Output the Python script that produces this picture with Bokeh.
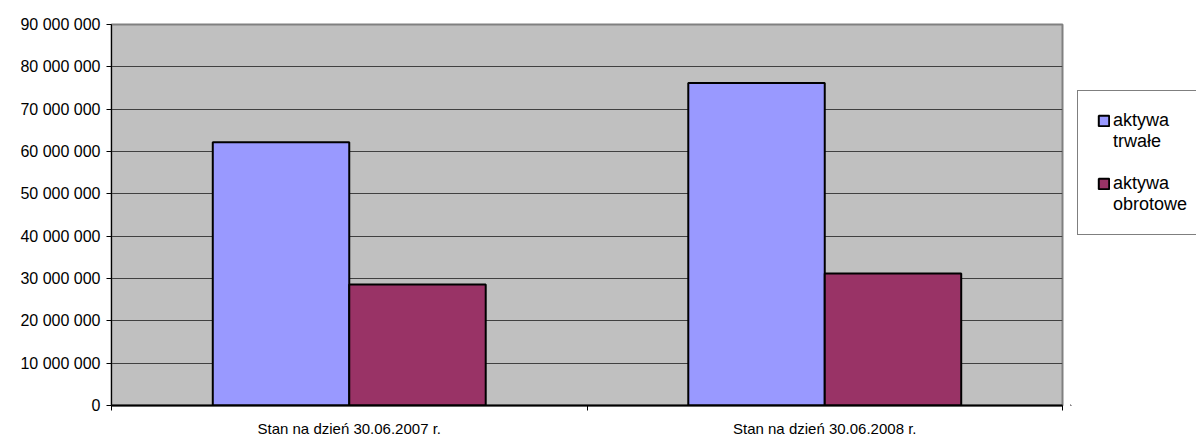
from bokeh.plotting import figure
from bokeh.layouts import row
from bokeh.models import Range1d, FixedTicker, Legend, LegendItem, ColumnDataSource
from bokeh.embed import file_html
from bokeh.resources import INLINE

categories = ["Stan na dzień 30.06.2007 r.", "Stan na dzień 30.06.2008 r."]
series_label_lines = [["aktywa", "trwałe"], ["aktywa", "obrotowe"]]
aktywa_trwale = [62_200_000, 76_200_000]
aktywa_obrotowe = [28_600_000, 31_200_000]
series_colors = ["#9999FF", "#993366"]
y_ticks = [0, 10_000_000, 20_000_000, 30_000_000, 40_000_000,
           50_000_000, 60_000_000, 70_000_000, 80_000_000, 90_000_000]
y_tick_labels = ["0", "10 000 000", "20 000 000", "30 000 000", "40 000 000",
                 "50 000 000", "60 000 000", "70 000 000", "80 000 000", "90 000 000"]

FONT = "Liberation Sans"
n = len(categories)
bar_w = 0.287
centers = [i + 0.5 for i in range(n)]

# ---------------- main chart ----------------
p = figure(width=1070, height=439, output_backend="svg", toolbar_location=None,
           x_range=Range1d(0, n), y_range=Range1d(y_ticks[0], y_ticks[-1]),
           min_border_left=111, min_border_right=8, min_border_top=24,
           min_border_bottom=33)

p.background_fill_color = "#C0C0C0"
p.border_fill_color = "white"
p.outline_line_color = "#808080"
p.outline_line_width = 2

src1 = ColumnDataSource(dict(x=[c - bar_w / 2 for c in centers], top=aktywa_trwale))
src2 = ColumnDataSource(dict(x=[c + bar_w / 2 for c in centers], top=aktywa_obrotowe))
p.vbar(x="x", top="top", bottom=0, width=bar_w, source=src1,
       fill_color=series_colors[0], line_color="black", line_width=2)
p.vbar(x="x", top="top", bottom=0, width=bar_w, source=src2,
       fill_color=series_colors[1], line_color="black", line_width=2)

p.xgrid.visible = False
p.ygrid.grid_line_color = "#404040"
p.ygrid.grid_line_width = 1
p.ygrid.ticker = FixedTicker(ticks=y_ticks)

ya = p.yaxis[0]
ya.ticker = FixedTicker(ticks=y_ticks)
ya.major_label_overrides = {t: l for t, l in zip(y_ticks, y_tick_labels)}
ya.axis_line_color = "black"
ya.major_tick_line_color = "black"
ya.major_tick_out = 5
ya.major_tick_in = 0
ya.minor_tick_line_color = None
ya.major_label_text_font = FONT
ya.major_label_text_font_size = "16px"
ya.major_label_text_color = "black"
ya.major_label_standoff = 6

xa = p.xaxis[0]
xa.ticker = FixedTicker(ticks=centers, minor_ticks=list(range(n + 1)))
xa.major_label_overrides = {c: l for c, l in zip(centers, categories)}
xa.axis_line_color = "black"
xa.axis_line_width = 2
xa.major_tick_out = 0
xa.major_tick_in = 0
xa.minor_tick_out = 5
xa.minor_tick_in = 0
xa.minor_tick_line_color = "black"
xa.major_label_text_font = FONT
xa.major_label_text_font_size = "15px"
xa.major_label_text_color = "black"
xa.major_label_standoff = 9

# ---------------- legend panel ----------------
lf = figure(width=126, height=439, output_backend="svg", toolbar_location=None,
            x_range=Range1d(0, 1), y_range=Range1d(0, 1),
            x_axis_type=None, y_axis_type=None, min_border=0)
lf.outline_line_color = None
lf.background_fill_color = "white"
lf.border_fill_color = "white"
lf.xgrid.visible = False
lf.ygrid.visible = False

# legend-only swatch renderers: one point each, placed outside the visible range
swatch = ColumnDataSource(dict(x=[-5.0], top=[-5.0]))
lr = [lf.vbar(x="x", top="top", bottom=-6.0, width=0.1, source=swatch,
              fill_color=c, line_color="black", line_width=2) for c in series_colors]

items = []
for k, lines in enumerate(series_label_lines):
    if k > 0:
        items.append(LegendItem(label=" ", renderers=[]))
    items.append(LegendItem(label=lines[0], renderers=[lr[k]], index=0))
    for extra in lines[1:]:
        items.append(LegendItem(label=extra, renderers=[]))

legend = Legend(items=items, location=(7, 170), orientation="vertical",
                glyph_width=13, glyph_height=13, label_standoff=3,
                label_height=21, label_text_font=FONT, label_text_font_size="18px",
                label_text_color="black", label_text_baseline="middle",
                spacing=0, padding=19,
                border_line_color="black", border_line_width=1,
                background_fill_color="white", background_fill_alpha=1.0,
                margin=0)
lf.add_layout(legend, "center")

layout = row(p, lf, spacing=0)
open("out.html", "w").write(file_html(layout, INLINE))
